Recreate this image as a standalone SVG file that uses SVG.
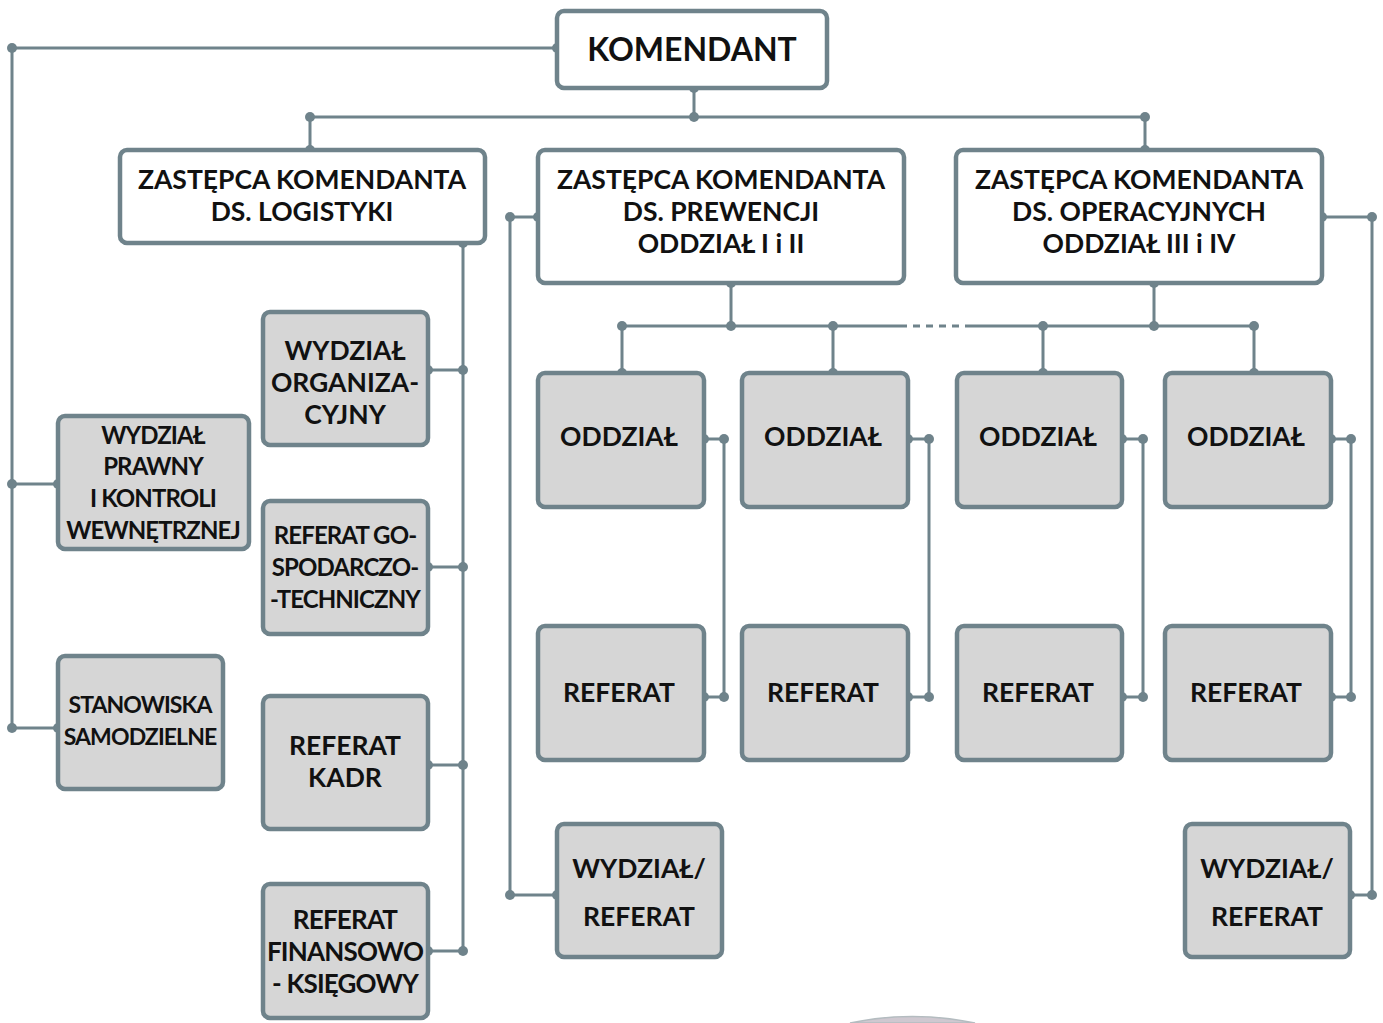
<svg xmlns="http://www.w3.org/2000/svg" width="1383" height="1023" viewBox="0 0 1383 1023">
<style>
.main{fill:#ffffff;stroke:#6f838b;stroke-width:4.5}
.sub{fill:#d6d6d6;stroke:#6f838b;stroke-width:4.5}
.ln{fill:none;stroke:#6f838b;stroke-width:3}
.dash{fill:none;stroke:#6f838b;stroke-width:3;stroke-dasharray:7 6}
.dot{fill:#6f838b}
text{font-family:Lato,"Noto Sans","Liberation Sans",sans-serif;font-weight:bold;fill:#111111;text-anchor:middle}
.t28{font-size:32px}
.t25{font-size:26.5px}
.t24{font-size:26.5px}
.t22{font-size:24px;letter-spacing:-0.9px}
.st{font-size:23px;letter-spacing:-0.9px}
.fin{font-size:26px;letter-spacing:-0.8px}
</style>
<rect width="1383" height="1023" fill="#ffffff"/>
<g id="connectors">
<path class="ln" d="M557,48 H12 V728 M12,484 H58 M12,728 H58"/>
<path class="ln" d="M694,88 V117 M310,117 H1145 M310,117 V150 M1145,117 V150"/>
<path class="ln" d="M463,243 V951 M428,370 H463 M428,567 H463 M428,765 H463 M428,951 H463"/>
<path class="ln" d="M731,283 V326 M1154,283 V326 M622,326 H900 M972,326 H1254 M622,326 V373 M833,326 V373 M1043,326 V373 M1254,326 V373"/>
<path class="dash" d="M900,326 H972"/>
<path class="ln" d="M704,439 H724 V697 H704 M908,439 H929 V697 H908 M1122,439 H1143 V697 H1122 M1331,439 H1351 V697 H1331"/>
<path class="ln" d="M538,217 H510 V895 H557 M1322,217 H1372 V895 H1350"/>
<g class="dot">
<circle cx="557" cy="48" r="5"/><circle cx="12" cy="48" r="5"/><circle cx="12" cy="484" r="5"/><circle cx="58" cy="484" r="5"/><circle cx="12" cy="728" r="5"/><circle cx="58" cy="728" r="5"/>
<circle cx="694" cy="88" r="5"/><circle cx="694" cy="117" r="5"/><circle cx="310" cy="117" r="5"/><circle cx="1145" cy="117" r="5"/><circle cx="310" cy="150" r="5"/><circle cx="1145" cy="150" r="5"/>
<circle cx="463" cy="243" r="5"/><circle cx="428" cy="370" r="5"/><circle cx="463" cy="370" r="5"/><circle cx="428" cy="567" r="5"/><circle cx="463" cy="567" r="5"/><circle cx="428" cy="765" r="5"/><circle cx="463" cy="765" r="5"/><circle cx="428" cy="951" r="5"/><circle cx="463" cy="951" r="5"/>
<circle cx="731" cy="283" r="5"/><circle cx="731" cy="326" r="5"/><circle cx="1154" cy="283" r="5"/><circle cx="1154" cy="326" r="5"/>
<circle cx="622" cy="326" r="5"/><circle cx="833" cy="326" r="5"/><circle cx="1043" cy="326" r="5"/><circle cx="1254" cy="326" r="5"/>
<circle cx="622" cy="373" r="5"/><circle cx="833" cy="373" r="5"/><circle cx="1043" cy="373" r="5"/><circle cx="1254" cy="373" r="5"/>
<circle cx="704" cy="439" r="5"/><circle cx="724" cy="439" r="5"/><circle cx="704" cy="697" r="5"/><circle cx="724" cy="697" r="5"/>
<circle cx="908" cy="439" r="5"/><circle cx="929" cy="439" r="5"/><circle cx="908" cy="697" r="5"/><circle cx="929" cy="697" r="5"/>
<circle cx="1122" cy="439" r="5"/><circle cx="1143" cy="439" r="5"/><circle cx="1122" cy="697" r="5"/><circle cx="1143" cy="697" r="5"/>
<circle cx="1331" cy="439" r="5"/><circle cx="1351" cy="439" r="5"/><circle cx="1331" cy="697" r="5"/><circle cx="1351" cy="697" r="5"/>
<circle cx="538" cy="217" r="5"/><circle cx="510" cy="217" r="5"/><circle cx="510" cy="895" r="5"/><circle cx="557" cy="895" r="5"/>
<circle cx="1322" cy="217" r="5"/><circle cx="1372" cy="217" r="5"/><circle cx="1372" cy="895" r="5"/><circle cx="1350" cy="895" r="5"/>
</g>
</g>
<g id="komendant">
<rect class="main" x="557" y="11" width="270" height="77" rx="7"/>
<text class="t28" x="692" y="61">KOMENDANT</text>
</g>
<g id="zastepca-logistyki">
<rect class="main" x="120" y="150" width="365" height="93" rx="7"/>
<text class="t25" x="302" y="189">ZASTĘPCA KOMENDANTA</text>
<text class="t25" x="302" y="221">DS. LOGISTYKI</text>
</g>
<g id="zastepca-prewencji">
<rect class="main" x="538" y="150" width="366" height="133" rx="7"/>
<text class="t25" x="721" y="189">ZASTĘPCA KOMENDANTA</text>
<text class="t25" x="721" y="221">DS. PREWENCJI</text>
<text class="t25" x="721" y="253">ODDZIAŁ I i II</text>
</g>
<g id="zastepca-operacyjnych">
<rect class="main" x="956" y="150" width="366" height="133" rx="7"/>
<text class="t25" x="1139" y="189">ZASTĘPCA KOMENDANTA</text>
<text class="t25" x="1139" y="221">DS. OPERACYJNYCH</text>
<text class="t25" x="1139" y="253">ODDZIAŁ III i IV</text>
</g>
<g id="wydzial-organizacyjny">
<rect class="sub" x="263" y="312" width="165" height="133" rx="7"/>
<text class="t24" x="345" y="360">WYDZIAŁ</text>
<text class="t24" x="345" y="392">ORGANIZA-</text>
<text class="t24" x="345" y="424">CYJNY</text>
</g>
<g id="referat-gospodarczo">
<rect class="sub" x="263" y="501" width="165" height="133" rx="7"/>
<text class="t22" x="345" y="544">REFERAT GO-</text>
<text class="t22" x="345" y="576">SPODARCZO-</text>
<text class="t22" x="345" y="608">-TECHNICZNY</text>
</g>
<g id="referat-kadr">
<rect class="sub" x="263" y="696" width="165" height="133" rx="7"/>
<text class="t24" x="345" y="755">REFERAT</text>
<text class="t24" x="345" y="787">KADR</text>
</g>
<g id="referat-finansowo">
<rect class="sub" x="263" y="884" width="165" height="134" rx="7"/>
<text class="fin" x="345" y="929">REFERAT</text>
<text class="fin" x="345" y="961">FINANSOWO</text>
<text class="fin" x="345" y="993">- KSIĘGOWY</text>
</g>
<g id="wydzial-prawny">
<rect class="sub" x="58" y="416" width="191" height="133" rx="7"/>
<text class="t22" x="153" y="444">WYDZIAŁ</text>
<text class="t22" x="153" y="475">PRAWNY</text>
<text class="t22" x="153" y="507">I KONTROLI</text>
<text class="t22" x="153" y="539">WEWNĘTRZNEJ</text>
</g>
<g id="stanowiska">
<rect class="sub" x="58" y="656" width="165" height="133" rx="7"/>
<text class="st" x="140" y="713">STANOWISKA</text>
<text class="st" x="140" y="745">SAMODZIELNE</text>
</g>
<g id="oddzial-1"><rect class="sub" x="538" y="373" width="166" height="134" rx="7"/><text class="t24" x="619" y="446">ODDZIAŁ</text></g>
<g id="oddzial-2"><rect class="sub" x="742" y="373" width="166" height="134" rx="7"/><text class="t24" x="823" y="446">ODDZIAŁ</text></g>
<g id="oddzial-3"><rect class="sub" x="957" y="373" width="165" height="134" rx="7"/><text class="t24" x="1038" y="446">ODDZIAŁ</text></g>
<g id="oddzial-4"><rect class="sub" x="1165" y="373" width="166" height="134" rx="7"/><text class="t24" x="1246" y="446">ODDZIAŁ</text></g>
<g id="referat-1"><rect class="sub" x="538" y="626" width="166" height="134" rx="7"/><text class="t24" x="619" y="702">REFERAT</text></g>
<g id="referat-2"><rect class="sub" x="742" y="626" width="166" height="134" rx="7"/><text class="t24" x="823" y="702">REFERAT</text></g>
<g id="referat-3"><rect class="sub" x="957" y="626" width="165" height="134" rx="7"/><text class="t24" x="1038" y="702">REFERAT</text></g>
<g id="referat-4"><rect class="sub" x="1165" y="626" width="166" height="134" rx="7"/><text class="t24" x="1246" y="702">REFERAT</text></g>
<g id="wydzial-referat-1"><rect class="sub" x="557" y="824" width="165" height="133" rx="7"/><text class="t24" x="639" y="878">WYDZIAŁ/</text><text class="t24" x="639" y="926">REFERAT</text></g>
<g id="wydzial-referat-2"><rect class="sub" x="1185" y="824" width="165" height="133" rx="7"/><text class="t24" x="1267" y="878">WYDZIAŁ/</text><text class="t24" x="1267" y="926">REFERAT</text></g>
<path d="M850,1023 Q912,1010 975,1023 Z" fill="#cfc8d0" stroke="#b4bcc0" stroke-width="1.5"/>
</svg>
